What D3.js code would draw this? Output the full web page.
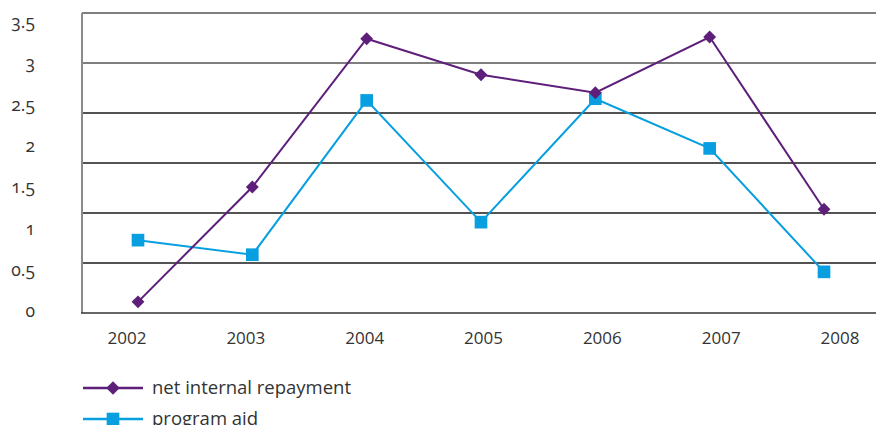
<!DOCTYPE html>
<html>
<head>
<meta charset="utf-8">
<script src="https://cdn.jsdelivr.net/npm/d3@7"></script>
<style>
  html, body { margin: 0; padding: 0; background: #fff; }
  svg { display: block; font-family: "Open Sans", "Noto Sans", sans-serif; }
</style>
</head>
<body>
<svg id="chart" width="876" height="425"></svg>
<script>
const years = ["2002", "2003", "2004", "2005", "2006", "2007", "2008"];
const netInternalRepayment = [0.13, 1.47, 3.20, 2.78, 2.57, 3.22, 1.21];
const programAid = [0.85, 0.68, 2.48, 1.06, 2.50, 1.92, 0.48];
const yTickLabels = ["0", "0.5", "1", "1.5", "2", "2.5", "3", "3.5"];
const seriesNames = ["net internal repayment", "program aid"];

const svg = d3.select("#chart");
const purple = "#5e1f7a";
const blue = "#079fdf";

const y = d3.scaleLinear().domain([0, 3.5]).range([313, 13]);
const yLab = d3.scaleLinear().domain([0, 3.5]).range([311, 22]);
const x = d3.scalePoint().domain(years).range([138, 824]);
const xLab = d3.scalePoint().domain(years).range([127, 840]);

// gridlines (6 equal intervals)
const gridVals = d3.range(7).map(i => i * 3.5 / 6);
svg.append("g").selectAll("line").data(gridVals.slice(1)).join("line")
  .attr("x1", 82).attr("x2", 876)
  .attr("y1", d => y(d)).attr("y2", d => y(d))
  .attr("stroke", (d, i) => i >= 4 ? "#555" : "#1a1a1a")
  .attr("stroke-width", 1.6);

// axes lines
svg.append("line").attr("x1", 82).attr("x2", 82).attr("y1", y(3.5)).attr("y2", y(0))
  .attr("stroke", "#8a8a8a").attr("stroke-width", 2);
svg.append("line").attr("x1", 81).attr("x2", 876).attr("y1", y(0)).attr("y2", y(0))
  .attr("stroke", "#333").attr("stroke-width", 1.6);

// y labels
svg.append("g").selectAll("text").data(yTickLabels).join("text")
  .attr("x", 35).attr("y", d => yLab(+d))
  .attr("dy", "0.35em")
  .attr("text-anchor", "end")
  .style("font-variant-numeric", "oldstyle-nums")
  .attr("font-size", 17.5).attr("fill", "#333")
  .text(d => d);

// x labels
svg.append("g").selectAll("text").data(years).join("text")
  .attr("x", d => xLab(d)).attr("y", 344)
  .attr("text-anchor", "middle")
  .attr("font-size", 17).attr("fill", "#333")
  .text(d => d);

const line = d3.line().x((d, i) => x(years[i])).y(d => y(d));

// series
svg.append("path").datum(programAid).attr("d", line)
  .attr("fill", "none").attr("stroke", blue).attr("stroke-width", 2);
svg.append("path").datum(netInternalRepayment).attr("d", line)
  .attr("fill", "none").attr("stroke", purple).attr("stroke-width", 2);

const diamond = d3.symbol().type(d3.symbolDiamond2).size(105);
const square = d3.symbol().type(d3.symbolSquare).size(160);

svg.append("g").selectAll("path").data(programAid).join("path")
  .attr("transform", (d, i) => `translate(${x(years[i])},${y(d)})`)
  .attr("d", square).attr("fill", blue);
svg.append("g").selectAll("path").data(netInternalRepayment).join("path")
  .attr("transform", (d, i) => `translate(${x(years[i])},${y(d)})`)
  .attr("d", diamond).attr("fill", purple);

// legend
const legend = svg.append("g");
const colors = [purple, blue];
const syms = [d3.symbol().type(d3.symbolDiamond2).size(115), square];
seriesNames.forEach((name, i) => {
  const ly = 388 + i * 31;
  legend.append("line").attr("x1", 83).attr("x2", 143).attr("y1", ly).attr("y2", ly)
    .attr("stroke", colors[i]).attr("stroke-width", 2.5);
  legend.append("path").attr("transform", `translate(113,${ly})`)
    .attr("d", syms[i]).attr("fill", colors[i]);
  legend.append("text").attr("x", 152).attr("y", ly).attr("dy", "0.35em")
    .attr("font-size", 18.5).attr("fill", "#333").text(name);
});
</script>
</body>
</html>
